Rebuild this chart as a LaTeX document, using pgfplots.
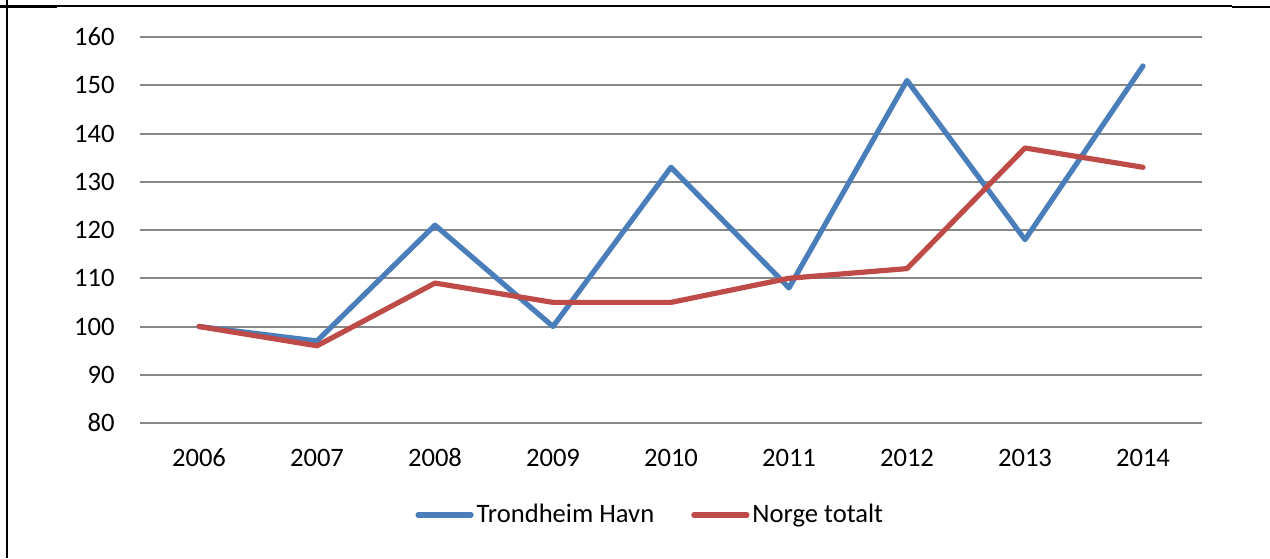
\documentclass[border=0pt]{standalone}
\usepackage{fontspec}
\setmainfont{Carlito}
\usepackage{pgfplots}
\pgfplotsset{compat=1.18}
\definecolor{tblue}{HTML}{4A7EBB}
\definecolor{nred}{HTML}{BE4B48}
\definecolor{gridg}{HTML}{878787}
\begin{document}
\fontsize{13.3pt}{15pt}\selectfont
\begin{tikzpicture}
\useasboundingbox (0pt,0pt) rectangle (635pt,279pt);
\draw[black, line width=1pt] (3.5pt,0pt) -- (3.5pt,279pt);
\draw[black, line width=1pt] (0pt,275.75pt) -- (616pt,275.75pt);
\draw[black, line width=1.2pt] (0pt,275.5pt) -- (28.5pt,275.5pt);
\draw[black, line width=1.2pt] (616pt,275.5pt) -- (635pt,275.5pt);
\begin{axis}[
  at={(70pt,67.5pt)}, anchor=south west,
  scale only axis, width=531pt, height=193pt,
  xmin=-0.5, xmax=8.5, ymin=80, ymax=160,
  ytick={80,90,...,160},
  xtick={0,...,8},
  xticklabels={2006,2007,2008,2009,2010,2011,2012,2013,2014},
  axis line style={draw=none},
  major tick length=0pt,
  ymajorgrids, grid style={gridg, line width=1pt},
  /pgf/number format/assume math mode=true,
  ticklabel style={font=\fontsize{13.3pt}{15pt}\selectfont},
  yticklabel style={anchor=east, inner sep=0pt, xshift=-12.5pt},
  xticklabel style={anchor=center, inner sep=0pt, yshift=-17.5pt},
  clip=false,
  legend columns=2,
  legend style={at={(0.259,-0.2383)}, anchor=west, draw=none, fill=none, inner sep=0pt,
    font=\fontsize{13.3pt}{15pt}\selectfont,
    /tikz/every even column/.append style={column sep=17pt},
    nodes={inner sep=1.5pt}},
  legend image code/.code={\draw[#1, line cap=round] (0pt,0pt) -- (26.5pt,0pt);},
]
\addplot[tblue, line width=2.6pt, line join=round, line cap=round] coordinates {
(0,100) (1,97) (2,121) (3,100) (4,133) (5,108) (6,151) (7,118) (8,154)};
\addlegendentry{Trondheim Havn}
\addplot[nred, line width=2.6pt, line join=round, line cap=round] coordinates {
(0,100) (1,96) (2,109) (3,105) (4,105) (5,110) (6,112) (7,137) (8,133)};
\addlegendentry{Norge totalt}
\end{axis}
\end{tikzpicture}
\end{document}
